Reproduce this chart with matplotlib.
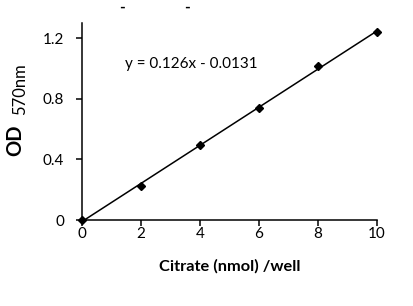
import numpy as np
import matplotlib.pyplot as plt

plt.rcParams["font.family"] = ["Lato", "DejaVu Sans"]

# standard curve values
citrate = np.array([0, 2, 4, 6, 8, 10])
od = np.array([0.0, 0.226, 0.495, 0.737, 1.014, 1.239])
equation = "y = 0.126x - 0.0131"

x_ticks = [0, 2, 4, 6, 8, 10]
y_ticks = [0, 0.4, 0.8, 1.2]
y_tick_labels = ["0", "0.4", "0.8", "1.2"]

fig = plt.figure(figsize=(4.13, 3.06), dpi=100)
ax = fig.add_axes([0.1985, 0.281, 0.7143, 0.644])

# linear trendline
slope, intercept = np.polyfit(citrate, od, 1)
xs = np.linspace(citrate.min(), citrate.max(), 50)
ax.plot(xs, slope * xs + intercept, color="black", lw=1.1, zorder=2)
ax.plot(citrate, od, "D", color="black", ms=3.6, zorder=3, clip_on=False)

ax.set_xlim(0, 10)
ax.set_ylim(0, 1.3)
ax.set_xticks(x_ticks)
ax.set_yticks(y_ticks)
ax.set_yticklabels(y_tick_labels)
for side in ["top", "right"]:
    ax.spines[side].set_visible(False)
for side in ["left", "bottom"]:
    ax.spines[side].set_linewidth(1.1)
ax.tick_params(axis="both", direction="out", length=4, width=1.1, labelsize=11)
ax.tick_params(axis="x", pad=1)
ax.tick_params(axis="y", pad=9)

ax.text(0.146, 0.79, equation, transform=ax.transAxes, fontsize=11, va="center")

ax.set_xlabel("Citrate (nmol) /well", fontsize=11.8, fontweight="bold", labelpad=13)

# y label: bold OD with a plain subscript
fig.text(15 / 413, 1 - 140 / 306, "OD", fontsize=14.5, fontweight="bold",
         rotation=90, ha="center", va="center")
fig.text(20 / 413, 1 - 89 / 306, "570nm", fontsize=12,
         rotation=90, ha="center", va="center")

# cut-off marks at the top edge of the original image
fig.text(122 / 413, 1 - 8 / 306, "-", fontsize=11, fontweight="bold", ha="center", va="center")
fig.text(187 / 413, 1 - 8 / 306, "-", fontsize=11, fontweight="bold", ha="center", va="center")

fig.savefig("out.png", dpi=100)
